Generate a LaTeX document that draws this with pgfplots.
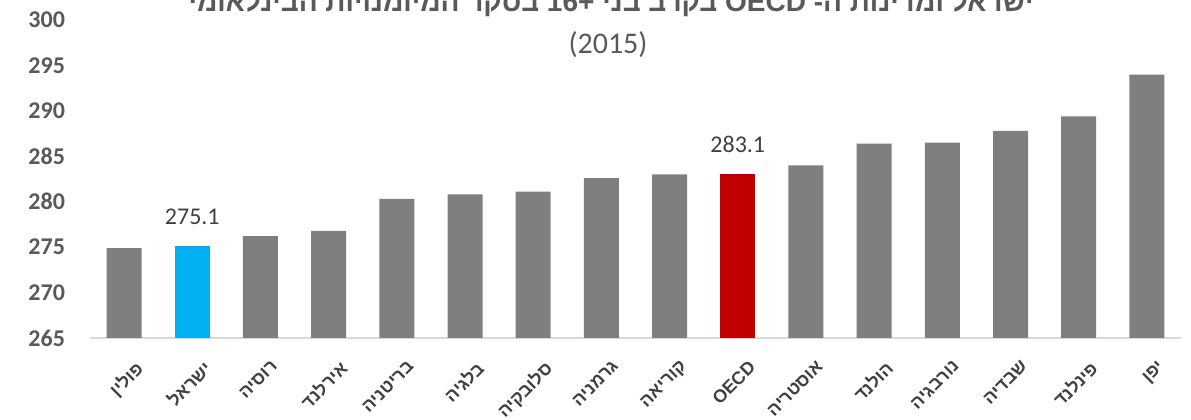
\documentclass[border=0pt]{standalone}
\usepackage{pgfplots}
\pgfplotsset{compat=1.18}
\usepackage{fontspec}
\setmainfont{Carlito}
\newfontfamily\hebfont[Script=Hebrew]{Liberation Sans}
\TeXXeTstate=1

\definecolor{bargray}{HTML}{7F7F7F}
\definecolor{isrblue}{HTML}{00B0F0}
\definecolor{oecdred}{HTML}{C00000}
\definecolor{ticktext}{HTML}{595959}
\definecolor{labtext}{HTML}{404040}
\definecolor{baseline}{HTML}{D9D9D9}

\newcommand{\heb}[1]{{\hebfont\beginR #1\endR}}

\begin{document}
\begin{tikzpicture}
\path[use as bounding box] (0,0) rectangle (595.5bp,210bp);

% title (top cut off as in the source)
\node[anchor=base, text=ticktext, font=\hebfont\bfseries\fontsize{14bp}{16bp}\selectfont]
  at (305.5bp,204bp) {\beginR ישראל ומדינות ה- OECD בקרב בני \beginL+16\endL{} בסקר המיומנויות הבינלאומי\endR};
\node[anchor=center, text=ticktext, font=\fontsize{15bp}{17bp}\selectfont]
  at (304bp,187.5bp) {(2015)};

\begin{axis}[
  at={(45bp,41bp)}, anchor=south west,
  width=545.5bp, height=159bp, scale only axis,
  xmin=-0.5, xmax=15.5,
  ymin=265, ymax=300,
  ytick={265,270,...,300},
  xtick={0,...,15},
  xticklabels={\heb{פולין},\heb{ישראל},\heb{רוסיה},\heb{אירלנד},\heb{בריטניה},\heb{בלגיה},\heb{סלובקיה},\heb{גרמניה},\heb{קוריאה},{\hebfont OECD},\heb{אוסטריה},\heb{הולנד},\heb{נורבגיה},\heb{שבדיה},\heb{פינלנד},\heb{יפן}},
  x tick label style={rotate=45, anchor=north east, inner sep=0pt, yshift=-11bp, xshift=-4bp,
    font=\bfseries\fontsize{9bp}{11bp}\selectfont, text=labtext},
  y tick label style={font=\bfseries\fontsize{12bp}{14bp}\selectfont, text=ticktext, xshift=-9bp},
  /pgf/number format/assume math mode=true,
  axis x line*=bottom, axis y line*=left,
  y axis line style={draw=none},
  x axis line style={draw=baseline, line width=1pt, -},
  major tick length=0pt,
  ybar, bar width=17.5bp, bar shift=0pt,
  every node near coord/.style={anchor=center, yshift=14.5bp, text=labtext,
    font=\fontsize{12bp}{14bp}\selectfont},
]
\addplot[fill=bargray, draw=none] coordinates {
  (0,274.9) (2,276.2) (3,276.8) (4,280.3) (5,280.8) (6,281.1) (7,282.6)
  (8,283.0) (10,284.0) (11,286.4) (12,286.5) (13,287.8) (14,289.4) (15,294.0)
};
\addplot[fill=isrblue, draw=none, nodes near coords, point meta=explicit symbolic]
  coordinates {(1,275.1) [275.1]};
\addplot[fill=oecdred, draw=none, nodes near coords, point meta=explicit symbolic]
  coordinates {(9,283.1) [283.1]};
\end{axis}
\end{tikzpicture}
\end{document}
